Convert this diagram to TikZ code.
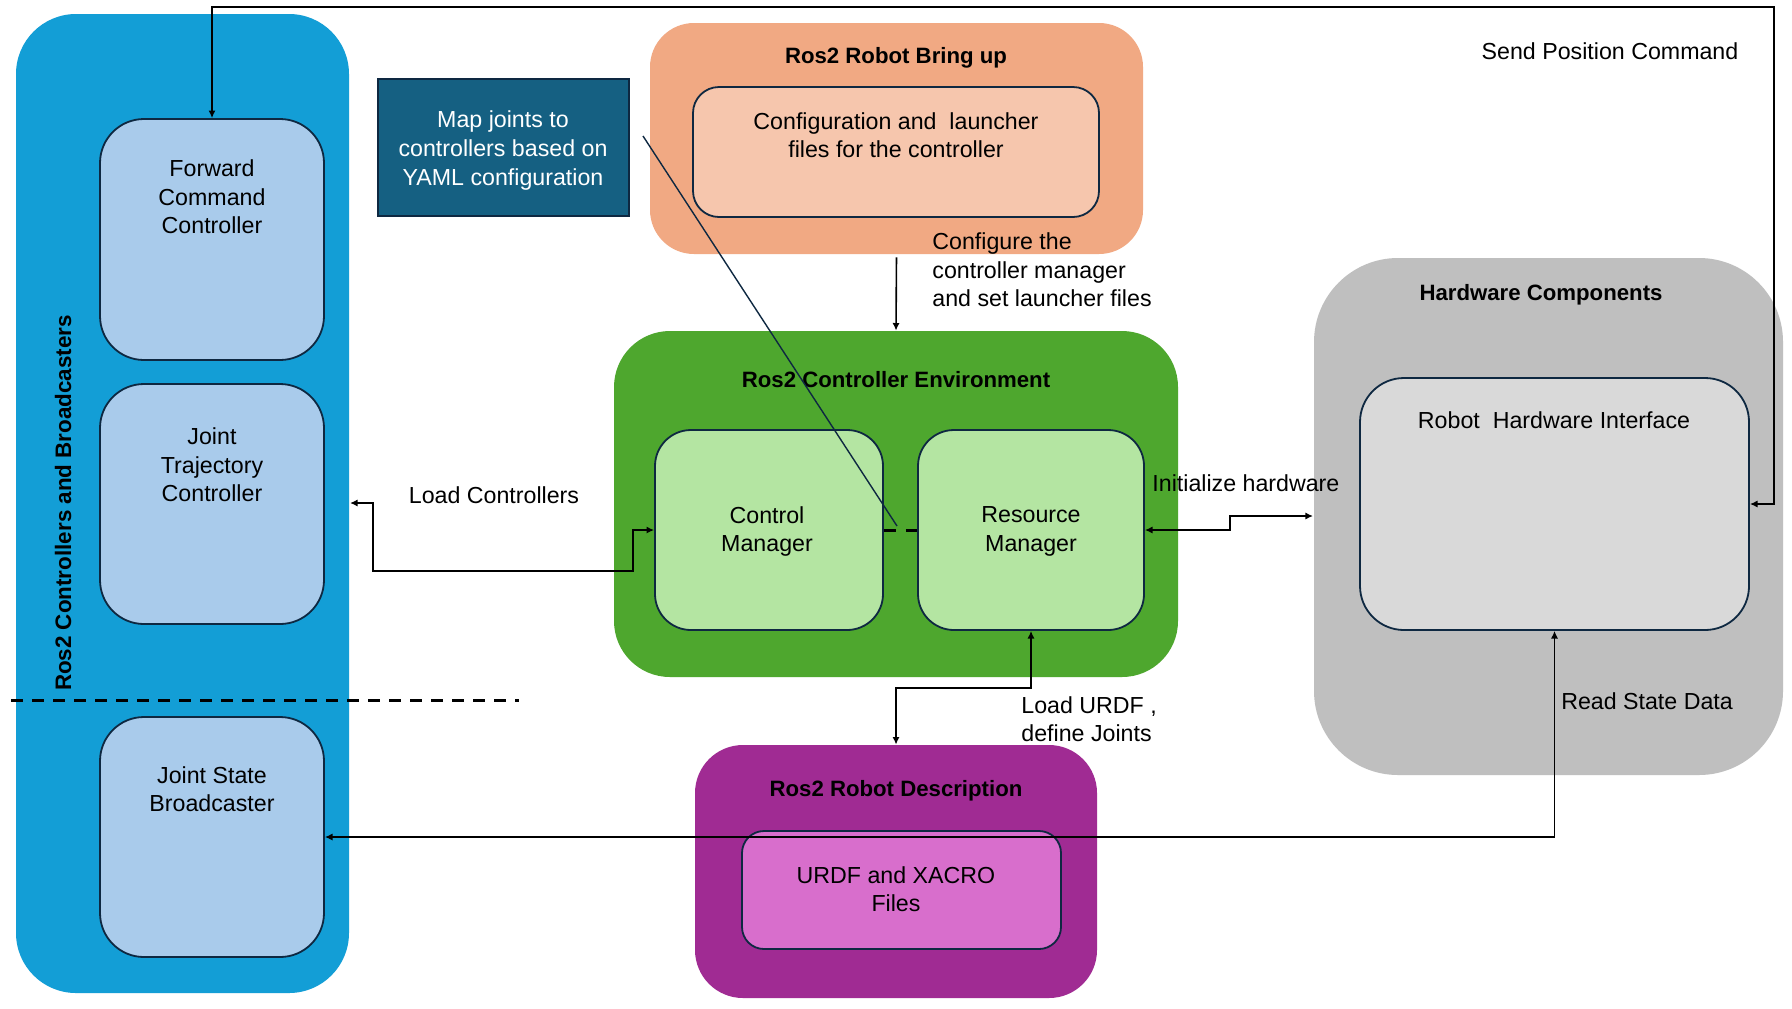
\documentclass[tikz,border=0pt]{standalone}
\usepackage{fontspec}
\setmainfont{Liberation Sans}
\usetikzlibrary{arrows.meta,fit}
\definecolor{cblue}{HTML}{139ED6}
\definecolor{clblue}{HTML}{A9CBEB}
\definecolor{cteal}{HTML}{156082}
\definecolor{corange}{HTML}{F1A983}
\definecolor{clorange}{HTML}{F6C6AD}
\definecolor{cgreen}{HTML}{4EA72E}
\definecolor{clgreen}{HTML}{B4E5A2}
\definecolor{cpurple}{HTML}{A02B93}
\definecolor{clpurple}{HTML}{D86ECC}
\definecolor{cgray}{HTML}{BFBFBF}
\definecolor{clgray}{HTML}{D9D9D9}
\definecolor{bordc}{HTML}{0E2841}
\tikzset{
  grp/.style={inner sep=0pt, draw=none},
  box/.style={inner sep=0pt, draw=bordc, line width=0.9pt},
  txt/.style={font=\fontsize{11.6}{14.3}\selectfont, align=center, inner sep=0pt},
  ttl/.style={font=\fontsize{11.1}{13}\selectfont\bfseries, inner sep=0pt},
  conn/.style={line width=0.8pt, draw=black},
  arr/.style={conn, -{Latex[length=3.8pt,width=3.6pt]}},
  dbl/.style={conn, {Latex[length=3.8pt,width=3.6pt]}-{Latex[length=3.8pt,width=3.6pt]}},
}
\begin{document}
\begin{tikzpicture}[x=0.5pt,y=-0.5pt]
\fill[white] (0,0) rectangle (1792,1008);
\useasboundingbox (0,0) rectangle (1792,1008);

% ---- group boxes
\node[grp, fill=cblue, rounded corners=30pt, fit={(16,14) (349,993)}] (ctrlgrp) {};
\node[grp, fill=corange, rounded corners=22pt, fit={(650,23) (1143,254)}] (bringup) {};
\node[grp, fill=cgreen, rounded corners=28pt, fit={(614,331) (1178,677)}] (env) {};
\node[grp, fill=cgray, rounded corners=42pt, fit={(1314,258) (1783,775)}] (hw) {};
\node[grp, fill=cpurple, rounded corners=24pt, fit={(695,745) (1097,998)}] (desc) {};

% ---- inner boxes
\node[box, fill=clblue, rounded corners=22pt, fit={(100,119) (324,360)}] (fcc) {};
\node[box, fill=clblue, rounded corners=22pt, fit={(100,384) (324,624)}] (jtc) {};
\node[box, fill=clblue, rounded corners=22pt, fit={(100,717) (324,957)}] (jsb) {};
\node[box, fill=cteal, draw=bordc, line width=0.7pt, fit={(378,79) (629,216)}] (map) {};
\node[box, fill=clorange, rounded corners=13pt, fit={(693,87) (1099,217)}] (cfg) {};
\node[box, fill=clgreen, rounded corners=18pt, fit={(655,430) (883,630)}] (cm) {};
\node[box, fill=clgreen, rounded corners=18pt, fit={(918,430) (1144,630)}] (rm) {};
\node[box, fill=clgray, rounded corners=22pt, fit={(1360,378) (1749,630)}] (rhi) {};
\node[box, fill=clpurple, rounded corners=11pt, fit={(742,831) (1061,949)}] (urdf) {};

% ---- texts
\node[rotate=90, font=\fontsize{11.2}{13}\selectfont\bfseries, inner sep=0pt] (ctrlgrp-t) at (63,503) {Ros2 Controllers and Broadcasters};
\node[txt] (fcc-t) at (212,197) {Forward\\Command\\Controller};
\node[txt] (jtc-t) at (212,465) {Joint\\Trajectory\\Controller};
\node[txt] (jsb-t) at (212,789) {Joint State\\Broadcaster};
\node[txt, text=white] (map-t) at (503,150.5) {Map joints to\\controllers based on\\YAML configuration};
\node[ttl] (bringup-t) at (896,57.5) {Ros2 Robot Bring up};
\node[txt] (cfg-t) at (896,135) {Configuration and\ \ launcher\\files for the controller};
\node[ttl] (env-t) at (896,380) {Ros2 Controller Environment};
\node[txt] (cm-t) at (767,531.5) {Control\\Manager};
\node[txt] (rm-t) at (1031,531.5) {Resource\\Manager};
\node[ttl] (hw-t) at (1541,294.5) {Hardware Components};
\node[txt] (rhi-t) at (1554,420) {Robot\ \ Hardware Interface};
\node[ttl] (desc-t) at (896,791) {Ros2 Robot Description};
\node[txt] (urdf-t) at (896,889) {URDF and XACRO\\Files};

% ---- connector labels
\node[txt, align=left, anchor=west] (cfglbl) at (932,270) {Configure the\\controller manager\\and set launcher files};
\node[txt] (lclbl) at (494,495) {Load Controllers};
\node[txt, anchor=west] (inilbl) at (1152,483) {Initialize hardware};
\node[txt] (splbl) at (1610,51) {Send Position Command};
\node[txt] (rsdlbl) at (1647,701) {Read State Data};
\node[txt, align=left, anchor=west] (urdflbl) at (1021,719) {Load URDF ,\\define Joints};

% ---- coordinates
\coordinate (lcL) at (350,503);
\coordinate (hwL) at (1313,516);
\coordinate (dashL) at (11,700);
\coordinate (dashR) at (519,700);
\coordinate (mapA) at (643,136);
\coordinate (mapB) at (897,526);

% ---- connectors
\draw[arr, shorten <=1.5pt] (bringup.south) -- (env.north);
\draw[dbl] (lcL) -| (373,571) -- (633,571) |- (cm.west);
\draw[dbl] (rm.east) -| (1230,516) -- (hwL);
\draw[dbl] (rhi.east) -| (1774,7) -| (fcc.north);
\draw[dbl] (jsb.east) -| (rhi.south);
\draw[dbl] (rm.south) |- (896,688) -- (desc.north);
\draw[line width=1.5pt, dash pattern=on 6pt off 5pt] (cm.east) -- (rm.west);
\draw[draw=bordc, line width=0.7pt] (mapA) -- (mapB);
\draw[line width=1.5pt, dash pattern=on 6pt off 4.5pt] (dashL) -- (dashR);
\end{tikzpicture}
\end{document}
